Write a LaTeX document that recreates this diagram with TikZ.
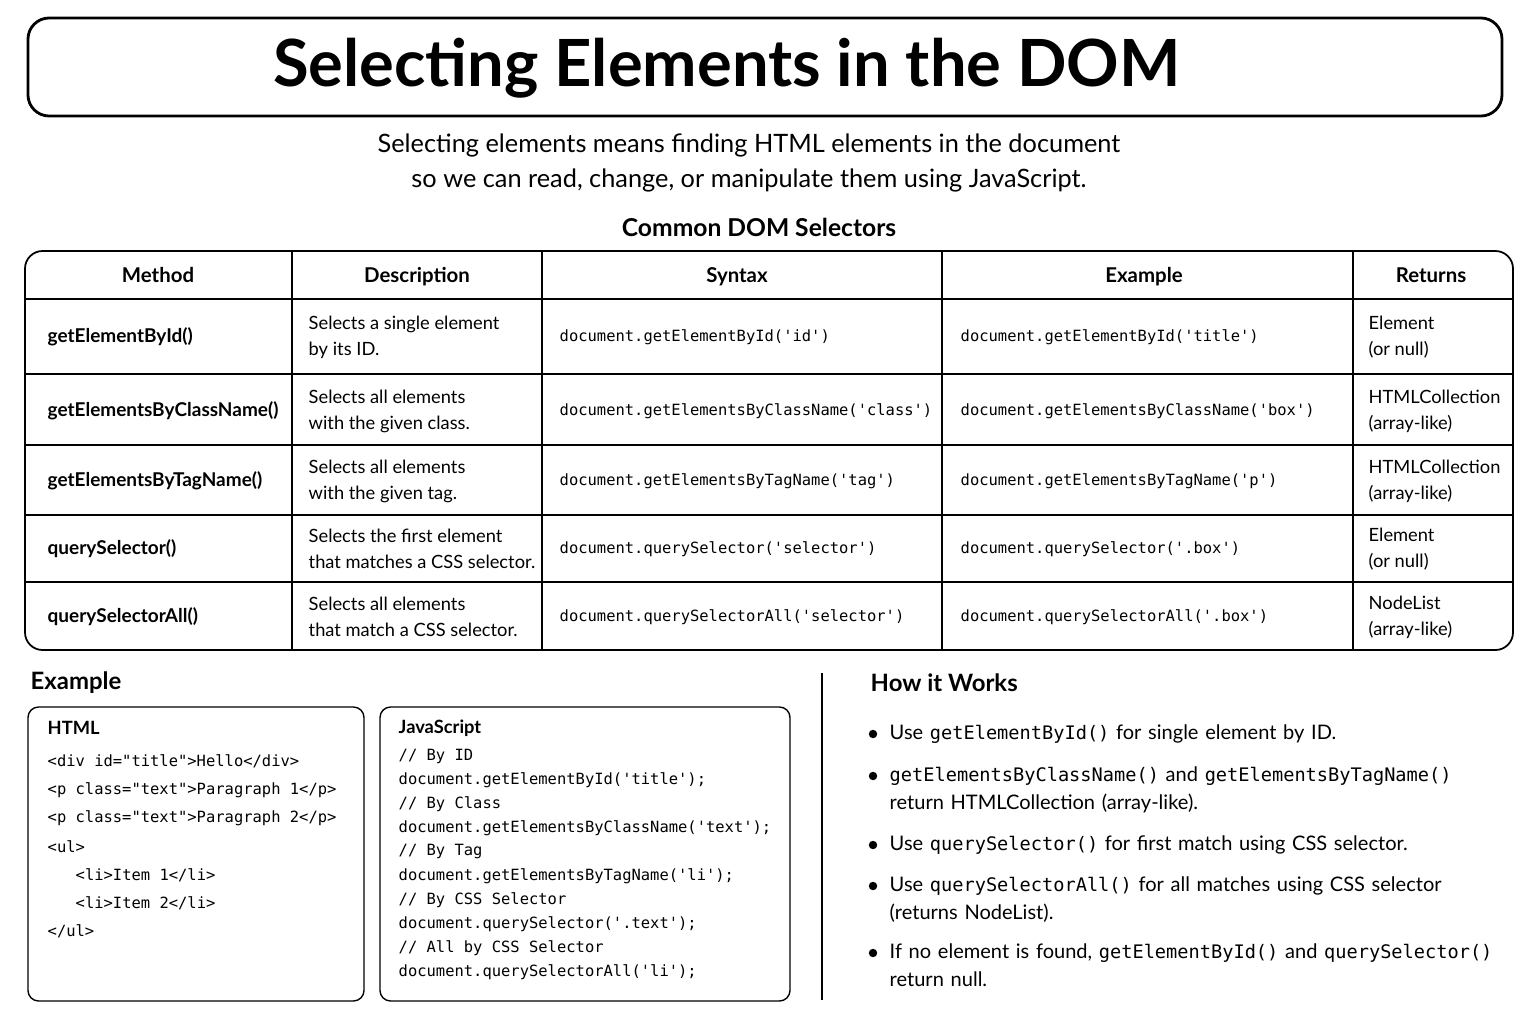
\documentclass[tikz,border=0pt]{standalone}
\usepackage{fontspec}
\setmainfont{Lato}
\setmonofont{DejaVu Sans Mono}
\usetikzlibrary{positioning}
\newcommand{\mt}[1]{{\fontsize{5.3}{7.6}\ttfamily #1}}
\tikzset{
  px/.style={x=0.01cm,y=-0.01cm},
  hd/.style={anchor=base,inner sep=0pt,font=\fontsize{5.8}{7.5}\selectfont\bfseries},
  cell/.style={anchor=west,align=left,inner sep=0pt,font=\fontsize{5.2}{7.4}\selectfont},
  code/.style={anchor=west,inner sep=0pt,font=\fontsize{4.4}{6}\ttfamily},
  sm/.style={anchor=west,inner sep=0pt,font=\fontsize{4.4}{6}\ttfamily},
  how/.style={anchor=north west,align=left,inner sep=0pt,text width=6.4cm,font=\fontsize{5.7}{7.9}\selectfont\raggedright},
  dot/.style={circle,fill=black,inner sep=0pt,minimum size=2.4pt},
  box/.style={draw,rounded corners=3pt,line width=0.4pt}
}
\begin{document}
\begin{tikzpicture}[px]
\useasboundingbox (0,0) rectangle (1536,1024);
% title and intro
\draw[rounded corners=6pt,line width=0.8pt] (28,18) rectangle (1502,116);
\node[font=\fontsize{18.5}{22}\selectfont\bfseries] (title) at (727,68) {Selecting Elements in the DOM};
\node[align=center,font=\fontsize{7.2}{10}\selectfont] (intro) at (749,163)
  {Selecting elements means finding HTML elements in the document\\so we can read, change, or manipulate them using JavaScript.};
\node[font=\fontsize{7}{9}\selectfont\bfseries] (tabtitle) at (759,227) {Common DOM Selectors};
% table
\draw[rounded corners=5pt,line width=0.5pt] (25,251) rectangle (1513,650);
\foreach \x in {292,542,942,1353} \draw[line width=0.4pt] (\x,251) -- (\x,650);
\foreach \y in {299,374,445,515,582} \draw[line width=0.4pt] (25,\y) -- (1513,\y);
\node[hd] (hm) at (158,282) {Method};
\node[hd] (hd) at (417,282) {Description};
\node[hd] (hs) at (737,282) {Syntax};
\node[hd] (he) at (1144,282) {Example};
\node[hd] (hr) at (1431,282) {Returns};
\foreach \y/\m/\d/\s/\e/\r [count=\i] in {
  337/{getElementById()}/{Selects a single element\\by its ID.}/{document.getElementById('id')}/{document.getElementById('title')}/{Element\\(or null)},
  411/{getElementsByClassName()}/{Selects all elements\\with the given class.}/{document.getElementsByClassName('class')}/{document.getElementsByClassName('box')}/{HTMLCollection\\(array-like)},
  481/{getElementsByTagName()}/{Selects all elements\\with the given tag.}/{document.getElementsByTagName('tag')}/{document.getElementsByTagName('p')}/{HTMLCollection\\(array-like)},
  549/{querySelector()}/{Selects the first element\\that matches a CSS selector.}/{document.querySelector('selector')}/{document.querySelector('.box')}/{Element\\(or null)},
  617/{querySelectorAll()}/{Selects all elements\\that match a CSS selector.}/{document.querySelectorAll('selector')}/{document.querySelectorAll('.box')}/{NodeList\\(array-like)}}
{
  \node[cell,font=\fontsize{5.4}{7.4}\selectfont\bfseries] (m\i) at (47,\y) {\m};
  \node[cell] (d\i) at (308,\y) {\d};
  \node[code] (s\i) at (559,\y) {\s};
  \node[code] (e\i) at (960,\y) {\e};
  \node[cell] (r\i) at (1368,\y) {\r};
}
% example
\node[anchor=west,inner sep=0pt,font=\fontsize{6.8}{9}\selectfont\bfseries] (ex) at (30,683) {Example};
\draw[box] (28,707) rectangle (364,1001);
\draw[box] (380,707) rectangle (790,1001);
\node[anchor=west,inner sep=0pt,font=\fontsize{5.2}{7}\selectfont\bfseries] (html) at (47,728) {HTML};
\node[anchor=west,inner sep=0pt,font=\fontsize{5.2}{7}\selectfont\bfseries] (js) at (398,728) {JavaScript};
\foreach \x/\y/\t [count=\i] in {47/761/{<div id="title">Hello</div>},47/790/{<p class="text">Paragraph 1</p>},
  47/818/{<p class="text">Paragraph 2</p>},47/847/{<ul>},75/875/{<li>Item 1</li>},75/903/{<li>Item 2</li>},47/931/{</ul>}}
  \node[sm] (h\i) at (\x,\y) {\t};
\foreach \y/\t [count=\i] in {756/{// By ID},780/{document.getElementById('title');},804/{// By Class},
  828/{document.getElementsByClassName('text');},852/{// By Tag},876/{document.getElementsByTagName('li');},
  900/{// By CSS Selector},924/{document.querySelector('.text');},948/{// All by CSS Selector},972/{document.querySelectorAll('li');}}
  \node[sm] (j\i) at (398,\y) {\t};
% how it works
\draw[line width=0.4pt] (822,673) -- (822,1000);
\node[anchor=west,inner sep=0pt,font=\fontsize{6.8}{9}\selectfont\bfseries] (hw) at (870,683) {How it Works};
\foreach \y/\t [count=\i] in {
  724/{Use \mt{getElementById()} for single element by ID.},
  766/{\mt{getElementsByClassName()} and \mt{getElementsByTagName()}\\return HTMLCollection (array-like).},
  835/{Use \mt{querySelector()} for first match using CSS selector.},
  876/{Use \mt{querySelectorAll()} for all matches using CSS selector\\(returns NodeList).},
  943/{If no element is found, \mt{getElementById()} and \mt{querySelector()}\\return null.}}
{
  \node[how] (w\i) at (889,\y) {\t};
  \node[dot] (b\i) at (873,\y+10) {};
}
\end{tikzpicture}
\end{document}
